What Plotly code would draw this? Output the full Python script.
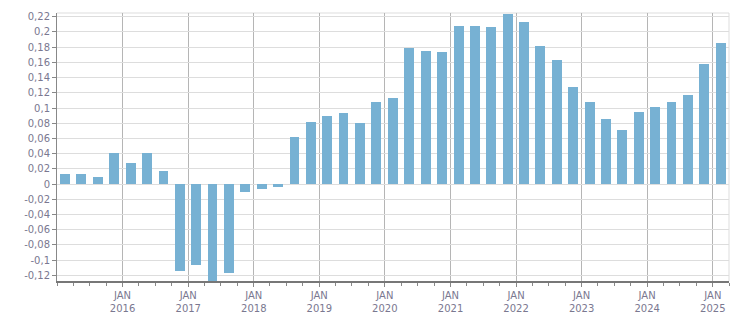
import plotly.graph_objects as go

quarters = [
    "2015-02-15", "2015-05-16", "2015-08-16", "2015-11-15",
    "2016-02-15", "2016-05-16", "2016-08-16", "2016-11-15",
    "2017-02-15", "2017-05-16", "2017-08-16", "2017-11-15",
    "2018-02-15", "2018-05-16", "2018-08-16", "2018-11-15",
    "2019-02-15", "2019-05-16", "2019-08-16", "2019-11-15",
    "2020-02-15", "2020-05-16", "2020-08-16", "2020-11-15",
    "2021-02-15", "2021-05-16", "2021-08-16", "2021-11-15",
    "2022-02-15", "2022-05-16", "2022-08-16", "2022-11-15",
    "2023-02-15", "2023-05-16", "2023-08-16", "2023-11-15",
    "2024-02-15", "2024-05-16", "2024-08-16", "2024-11-15",
    "2025-02-15",
]
values = [
    0.013, 0.013, 0.009, 0.041,
    0.028, 0.041, 0.017, -0.114,
    -0.106, -0.135, -0.117, -0.010,
    -0.006, -0.0035, 0.062, 0.082,
    0.090, 0.094, 0.080, 0.108,
    0.113, 0.179, 0.175, 0.173,
    0.208, 0.208, 0.207, 0.224,
    0.213, 0.182, 0.163, 0.127,
    0.108, 0.086, 0.071, 0.095,
    0.101, 0.108, 0.117, 0.158,
    0.186,
]
year_ticks = ["2016-01-01", "2017-01-01", "2018-01-01", "2019-01-01", "2020-01-01",
              "2021-01-01", "2022-01-01", "2023-01-01", "2024-01-01", "2025-01-01"]
year_labels = ["JAN<br>2016", "JAN<br>2017", "JAN<br>2018", "JAN<br>2019", "JAN<br>2020",
               "JAN<br>2021", "JAN<br>2022", "JAN<br>2023", "JAN<br>2024", "JAN<br>2025"]
y_ticks = [-0.12, -0.10, -0.08, -0.06, -0.04, -0.02, 0, 0.02, 0.04, 0.06, 0.08,
           0.10, 0.12, 0.14, 0.16, 0.18, 0.20, 0.22]
y_labels = ["-0,12", "-0,1", "-0,08", "-0,06", "-0,04", "-0,02", "0", "0,02", "0,04",
            "0,06", "0,08", "0,1", "0,12", "0,14", "0,16", "0,18", "0,2", "0,22"]

DAY_MS = 86400000
fig = go.Figure(go.Bar(
    x=quarters, y=values, width=[55 * DAY_MS] * len(values),
    marker=dict(color="#77b1d3", line=dict(width=0)),
    hoverinfo="x+y",
))

font = dict(family="Verdana, DejaVu Sans, sans-serif", size=10, color="#7a7890")
fig.update_layout(
    width=751, height=313,
    margin=dict(l=57, r=22, t=13, b=32),
    paper_bgcolor="white", plot_bgcolor="white",
    showlegend=False, bargap=0,
    font=font,
    xaxis=dict(
        type="date", automargin=False,
        range=["2015-01-01", "2025-04-01"],
        tickmode="array", tickvals=year_ticks, ticktext=year_labels,
        showgrid=True, gridcolor="#b5b5b5", gridwidth=1,
        ticks="outside", ticklen=4, tickcolor="#888888",
        showline=True, linecolor="#777777", linewidth=2,
        minor=dict(dtick="M3", tick0="2015-01-01", ticks="outside", ticklen=3,
                   tickcolor="#888888", showgrid=False),
        zeroline=False, tickfont=font,
    ),
    yaxis=dict(
        range=[-0.1274, 0.2249], automargin=False,
        tickmode="array", tickvals=y_ticks, ticktext=y_labels,
        showgrid=True, gridcolor="#dddddd", gridwidth=1,
        ticks="outside", ticklen=4, tickcolor="#888888",
        showline=True, linecolor="#888888", linewidth=1,
        zeroline=False, tickfont=font,
    ),
    shapes=[
        dict(type="line", xref="paper", yref="paper", x0=0, x1=1, y0=1, y1=1,
             line=dict(color="#dddddd", width=1), layer="below"),
        dict(type="line", xref="paper", yref="paper", x0=1, x1=1, y0=0, y1=1,
             line=dict(color="#dddddd", width=1), layer="below"),
    ],
)
fig.write_html("out.html")
